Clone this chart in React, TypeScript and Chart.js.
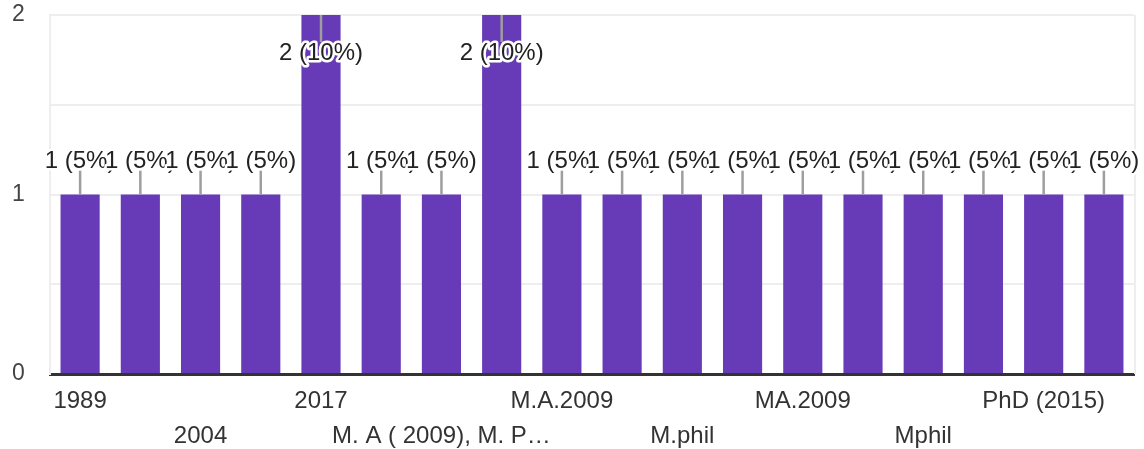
import React, { useEffect, useRef } from "react";
import { Chart, registerables } from "chart.js";

Chart.register(...registerables);

const categories: string[] = [
  "1989",
  "1998",
  "2004",
  "2012",
  "2017",
  "2019",
  "M. A ( 2009), M. P…",
  "M. Phil",
  "M.A.2009",
  "M.A",
  "M.phil",
  "MA",
  "MA.2009",
  "MA. 2010",
  "Mphil",
  "Ph.D",
  "PhD (2015)",
  "Ph.D.",
];
const counts: number[] = [1, 1, 1, 1, 2, 1, 1, 2, 1, 1, 1, 1, 1, 1, 1, 1, 1, 1];
const yTickValues: number[] = [0, 1, 2];

const FONT = "'Liberation Sans', Arial, sans-serif";
const BAR_COLOR = "#673ab7";

const labelPlugin = {
  id: "barLabels",
  afterDatasetsDraw(chart: any) {
    const { ctx, chartArea } = chart;
    const meta = chart.getDatasetMeta(0);
    const data = chart.data.datasets[0].data as number[];
    const total = data.reduce((a, b) => a + b, 0);
    ctx.save();
    // right edge line
    ctx.strokeStyle = "#eeeeee";
    ctx.lineWidth = 2;
    ctx.beginPath();
    ctx.moveTo(chartArea.right + 1, chartArea.top);
    ctx.lineTo(chartArea.right + 1, chartArea.bottom);
    ctx.stroke();

    ctx.font = `24px ${FONT}`;
    ctx.textAlign = "center";
    ctx.textBaseline = "alphabetic";
    meta.data.forEach((bar: any, i: number) => {
      const v = data[i];
      const pct = Math.round((v / total) * 100);
      const text = `${v} (${pct}%)`;
      const x = bar.x;
      const top = bar.y;
      const inside = top - 48 < chartArea.top;
      const lineEnd = inside ? top + 27 : top - 24;
      const ty = inside ? top + 45 : top - 27;
      ctx.strokeStyle = "#9e9e9e";
      ctx.lineWidth = 2.5;
      ctx.beginPath();
      ctx.moveTo(x, top);
      ctx.lineTo(x, lineEnd);
      ctx.stroke();
      ctx.lineJoin = "round";
      ctx.strokeStyle = "#ffffff";
      ctx.lineWidth = 5;
      ctx.strokeText(text, x, ty);
      ctx.fillStyle = "#222222";
      ctx.fillText(text, x, ty);
    });
    ctx.restore();
  },
};

export default function App() {
  const ref = useRef<HTMLCanvasElement | null>(null);
  useEffect(() => {
    if (!ref.current) return;
    const chart = new Chart(ref.current, {
      type: "bar",
      data: {
        labels: categories,
        datasets: [
          {
            data: counts,
            backgroundColor: BAR_COLOR,
            barPercentage: 0.65,
            categoryPercentage: 1,
          },
        ],
      },
      options: {
        animation: false,
        responsive: false,
        maintainAspectRatio: false,
        layout: { padding: { top: 15, right: 10, left: 12, bottom: 0 } },
        plugins: {
          legend: { display: false },
          tooltip: { enabled: false },
        },
        scales: {
          x: {
            grid: { display: false, drawTicks: false },
            border: { display: true, color: "#333333", width: 3 },
            ticks: {
              autoSkip: false,
              maxRotation: 0,
              minRotation: 0,
              padding: 10,
              color: "#333333",
              font: { family: FONT, size: 24, lineHeight: "35px" as any },
              callback: (_v: any, i: number) => {
                const lab = categories[i];
                if (i % 4 === 0) return lab;
                if (i % 4 === 2) return ["", lab];
                return "";
              },
            },
            afterFit: (s: any) => {
              s.height = 75;
            },
          },
          y: {
            min: 0,
            max: 2,
            grid: { color: "#eeeeee", lineWidth: 2, drawTicks: false },
            border: { display: true, color: "#eeeeee", width: 2 },
            ticks: {
              stepSize: 0.5,
              padding: 0,
              crossAlign: "far",
              color: "#444444",
              font: { family: FONT, size: 23 },
              callback: (v: any) => (yTickValues.includes(Number(v)) ? String(v) : ""),
            },
            afterFit: (s: any) => {
              s.width = 38;
            },
          },
        },
      },
      plugins: [labelPlugin],
    });
    return () => chart.destroy();
  }, []);
  return (
    <div style={{ position: "fixed", left: 0, top: 0, width: 1144, height: 449, background: "#fff" }}>
      <canvas ref={ref} width={1144} height={449} style={{ width: 1144, height: 449 }} />
    </div>
  );
}
